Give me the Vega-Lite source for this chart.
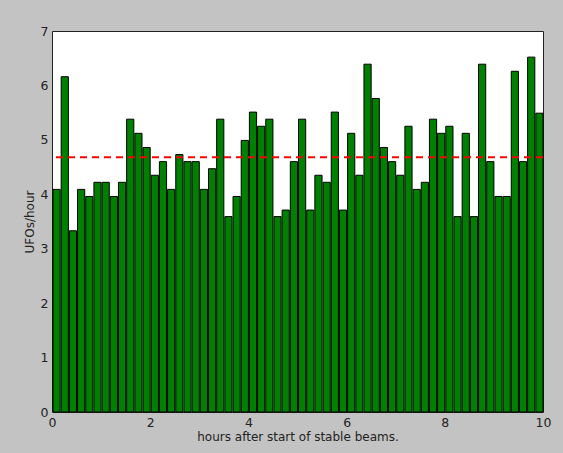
{
  "$schema": "https://vega.github.io/schema/vega-lite/v6.json",
  "autosize": {"type": "none"},
  "width": 491,
  "height": 381,
  "padding": {"left": 52, "top": 31, "right": 20, "bottom": 41},
  "background": "#c3c3c3",
  "config": {
    "view": {"stroke": "#222", "strokeWidth": 1, "fill": "white"},
    "font": "DejaVu Sans",
    "axis": {"grid": false, "domain": false, "labelColor": "#222", "titleColor": "#222", "labelFontSize": 12.5, "titleFontSize": 12, "titleFontWeight": "normal", "tickColor": "#222", "tickSize": 0, "labelPadding": 4, "labelFlush": false, "labelOverlap": false},
    "bar": {"binSpacing": 1}
  },
  "layer": [
    {
      "data": {"values": [
        {"start": 0.0000, "end": 0.1667, "ufos": 4.09},
        {"start": 0.1667, "end": 0.3333, "ufos": 6.16},
        {"start": 0.3333, "end": 0.5000, "ufos": 3.33},
        {"start": 0.5000, "end": 0.6667, "ufos": 4.09},
        {"start": 0.6667, "end": 0.8333, "ufos": 3.96},
        {"start": 0.8333, "end": 1.0000, "ufos": 4.22},
        {"start": 1.0000, "end": 1.1667, "ufos": 4.22},
        {"start": 1.1667, "end": 1.3333, "ufos": 3.96},
        {"start": 1.3333, "end": 1.5000, "ufos": 4.22},
        {"start": 1.5000, "end": 1.6667, "ufos": 5.38},
        {"start": 1.6667, "end": 1.8333, "ufos": 5.12},
        {"start": 1.8333, "end": 2.0000, "ufos": 4.86},
        {"start": 2.0000, "end": 2.1667, "ufos": 4.35},
        {"start": 2.1667, "end": 2.3333, "ufos": 4.60},
        {"start": 2.3333, "end": 2.5000, "ufos": 4.09},
        {"start": 2.5000, "end": 2.6667, "ufos": 4.73},
        {"start": 2.6667, "end": 2.8333, "ufos": 4.60},
        {"start": 2.8333, "end": 3.0000, "ufos": 4.60},
        {"start": 3.0000, "end": 3.1667, "ufos": 4.09},
        {"start": 3.1667, "end": 3.3333, "ufos": 4.47},
        {"start": 3.3333, "end": 3.5000, "ufos": 5.38},
        {"start": 3.5000, "end": 3.6667, "ufos": 3.59},
        {"start": 3.6667, "end": 3.8333, "ufos": 3.96},
        {"start": 3.8333, "end": 4.0000, "ufos": 4.99},
        {"start": 4.0000, "end": 4.1667, "ufos": 5.51},
        {"start": 4.1667, "end": 4.3333, "ufos": 5.25},
        {"start": 4.3333, "end": 4.5000, "ufos": 5.38},
        {"start": 4.5000, "end": 4.6667, "ufos": 3.59},
        {"start": 4.6667, "end": 4.8333, "ufos": 3.71},
        {"start": 4.8333, "end": 5.0000, "ufos": 4.60},
        {"start": 5.0000, "end": 5.1667, "ufos": 5.38},
        {"start": 5.1667, "end": 5.3333, "ufos": 3.71},
        {"start": 5.3333, "end": 5.5000, "ufos": 4.35},
        {"start": 5.5000, "end": 5.6667, "ufos": 4.22},
        {"start": 5.6667, "end": 5.8333, "ufos": 5.51},
        {"start": 5.8333, "end": 6.0000, "ufos": 3.71},
        {"start": 6.0000, "end": 6.1667, "ufos": 5.12},
        {"start": 6.1667, "end": 6.3333, "ufos": 4.35},
        {"start": 6.3333, "end": 6.5000, "ufos": 6.39},
        {"start": 6.5000, "end": 6.6667, "ufos": 5.76},
        {"start": 6.6667, "end": 6.8333, "ufos": 4.86},
        {"start": 6.8333, "end": 7.0000, "ufos": 4.60},
        {"start": 7.0000, "end": 7.1667, "ufos": 4.35},
        {"start": 7.1667, "end": 7.3333, "ufos": 5.25},
        {"start": 7.3333, "end": 7.5000, "ufos": 4.09},
        {"start": 7.5000, "end": 7.6667, "ufos": 4.22},
        {"start": 7.6667, "end": 7.8333, "ufos": 5.38},
        {"start": 7.8333, "end": 8.0000, "ufos": 5.12},
        {"start": 8.0000, "end": 8.1667, "ufos": 5.25},
        {"start": 8.1667, "end": 8.3333, "ufos": 3.59},
        {"start": 8.3333, "end": 8.5000, "ufos": 5.12},
        {"start": 8.5000, "end": 8.6667, "ufos": 3.59},
        {"start": 8.6667, "end": 8.8333, "ufos": 6.39},
        {"start": 8.8333, "end": 9.0000, "ufos": 4.60},
        {"start": 9.0000, "end": 9.1667, "ufos": 3.96},
        {"start": 9.1667, "end": 9.3333, "ufos": 3.96},
        {"start": 9.3333, "end": 9.5000, "ufos": 6.26},
        {"start": 9.5000, "end": 9.6667, "ufos": 4.60},
        {"start": 9.6667, "end": 9.8333, "ufos": 6.52},
        {"start": 9.8333, "end": 10.0000, "ufos": 5.49}
      ]},
      "mark": {"type": "bar", "fill": "#008000", "stroke": "#000000", "strokeWidth": 1},
      "encoding": {
        "x": {"field": "start", "type": "quantitative", "bin": {"binned": true},
              "scale": {"domain": [0, 10], "nice": false},
              "axis": {"values": [0, 2, 4, 6, 8, 10], "format": "d", "title": "hours after start of stable beams.", "titlePadding": 3}},
        "x2": {"field": "end"},
        "y": {"field": "ufos", "type": "quantitative",
              "scale": {"domain": [0, 7], "nice": false},
              "axis": {"values": [0, 1, 2, 3, 4, 5, 6, 7], "format": "d", "title": "UFOs/hour", "titlePadding": 4}}
      }
    },
    {
      "data": {"values": [{"mean": 4.68}]},
      "mark": {"type": "rule", "color": "#ff0000", "strokeWidth": 2, "strokeDash": [7, 5]},
      "encoding": {"y": {"field": "mean", "type": "quantitative"}}
    }
  ]
}
